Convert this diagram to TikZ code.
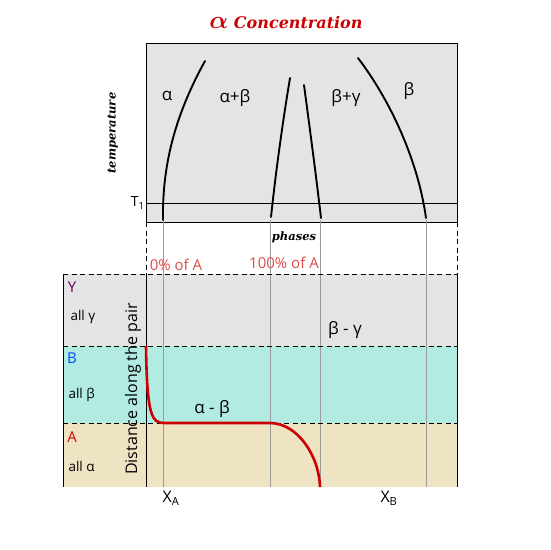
\documentclass[tikz,border=0pt]{standalone}
\usepackage{amsmath}
\usepackage{fontspec}
\setmainfont{Open Sans}
\newfontfamily\serifbi{DejaVu Serif}
\definecolor{titlered}{HTML}{CC0000}
\definecolor{pctred}{HTML}{DD4A4A}
\definecolor{bandgrey}{HTML}{E4E4E4}
\definecolor{bandteal}{HTML}{B2EBE1}
\definecolor{bandbeige}{HTML}{EEE4C4}
\definecolor{guidegrey}{HTML}{9A9A9A}
\tikzset{
  phaseline/.style={line width=1.9pt, line cap=round},
  guide/.style={guidegrey, line width=0.8pt},
  frame/.style={line width=1pt},
  sep/.style={dash pattern=on 5pt off 3.5pt, line width=0.9pt},
  phaselabel/.style={font=\fontsize{17}{20}\selectfont},
  bandlabel/.style={font=\fontsize{13.5}{16}\selectfont, anchor=west},
  letterlabel/.style={font=\fontsize{15}{18}\selectfont},
  axislabel/.style={font=\serifbi\bfseries\itshape\fontsize{11.5}{14}\selectfont}
}
\begin{document}
\begin{tikzpicture}[x=1pt, y=-1pt]
	\useasboundingbox (0,0) rectangle (550,550);
	% bands of the couple
	\fill[bandgrey] (63,274) rectangle (457,346);
	\fill[bandteal] (63,346) rectangle (457,423);
	\fill[bandbeige] (63,423) rectangle (457,487);
	% phase diagram box
	\fill[bandgrey] (146,43) rectangle (457,222);
	\draw[frame] (146,43) rectangle (457,222);
	\coordinate (t1l) at (146,203);
	\coordinate (t1r) at (457,203);
	\draw[frame] (t1l) -- (t1r);
	% guide lines
	\foreach \x/\n in {163/ga, 270/gb, 320/gc, 426/gd}{
		\coordinate (\n top) at (\x,220);
		\coordinate (\n bot) at (\x,487);
		\draw[guide] (\n top) -- (\n bot);
	}
	% phase boundaries
	\draw[phaseline] (163,220) .. controls (162,160) and (178,110) .. (205,61);
	\draw[phaseline] (271,217) .. controls (276,170) and (283,120) .. (290,78);
	\draw[phaseline] (304,85) .. controls (310,130) and (316,175) .. (321,218);
	\draw[phaseline] (358,58) .. controls (390,100) and (418,160) .. (426,218);
	% dashed links and separators
	\draw[sep] (146,222) -- (146,274);
	\draw[sep] (457,222) -- (457,274);
	\draw[sep] (63,274) -- (457,274);
	\draw[sep] (63,346) -- (457,346);
	\draw[sep] (63,423) -- (457,423);
	\draw[frame] (63,274) -- (63,487);
	\draw[frame] (457,274) -- (457,487);
	\draw[frame] (146,274) -- (146,487);
	% concentration profile
	\draw[titlered, line width=2.6pt] (146,346) .. controls (147,418) and (152,423) .. (165,423)
		-- (270,423) .. controls (297,423) and (319,455) .. (320,487);
	% texts
	\node[text=titlered, font=\serifbi\bfseries\itshape\fontsize{16}{19}\selectfont] (title) at (286,23)
		{\fontsize{23}{25}\selectfont$\boldsymbol{\alpha}$\fontsize{16}{19}\selectfont\ Concentration};
	\node[axislabel, rotate=90] (temp) at (113,133) {temperature};
	\node[axislabel] (phases) at (294,237) {phases};
	\node[anchor=east, font=\fontsize{14}{16}\selectfont, inner sep=1pt] (t1) at (t1l) {T\textsubscript{1}};
	\node[phaselabel] (la) at (167,96) {α};
	\node[phaselabel] (lab) at (235,98) {α+β};
	\node[phaselabel] (lbg) at (346,98) {β+γ};
	\node[phaselabel] (lb) at (409,91) {β};
	\node[text=pctred, font=\fontsize{15}{18}\selectfont] (p0) at (176,265) {0\% of A};
	\node[text=pctred, font=\fontsize{15}{18}\selectfont] (p100) at (284,263) {100\% of A};
	\node[letterlabel, text=violet!80!black] (y) at (72,287) {Y};
	\node[bandlabel] (ay) at (67,317) {all γ};
	\node[letterlabel, text=blue!70!cyan] (b) at (72,358) {B};
	\node[bandlabel] (ab) at (65,395) {all β};
	\node[letterlabel, text=titlered] (a) at (72,437) {A};
	\node[bandlabel] (aa) at (65,466) {all α};
	\node[rotate=90, font=\fontsize{16}{19}\selectfont] (dist) at (133,389) {Distance along the pair};
	\node[phaselabel] (lamb) at (212,409) {α - β};
	\node[phaselabel] (lbmg) at (345,330) {β - γ};
	\node[font=\fontsize{16}{19}\selectfont] (xa) at (171,498) {X\textsubscript{A}};
	\node[font=\fontsize{16}{19}\selectfont] (xb) at (389,498) {X\textsubscript{B}};
\end{tikzpicture}
\end{document}
